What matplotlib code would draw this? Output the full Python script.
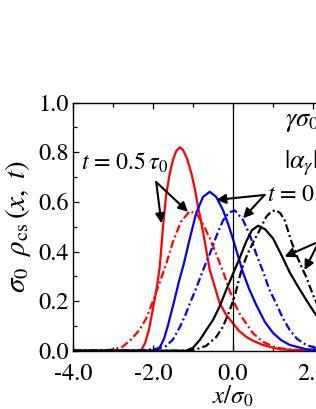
import matplotlib
matplotlib.use("Agg")
import matplotlib.pyplot as plt

plt.rcParams['font.family'] = ['STIXGeneral', 'DejaVu Serif']
plt.rcParams['mathtext.fontset'] = 'stix'

# ---- data ----
red_solid_x = [-4.0, -2.5, -2.3, -2.2, -2.1, -2.0, -1.9, -1.83, -1.75, -1.67, -1.58, -1.5, -1.42, -1.33,
               -1.25, -1.15, -1.04, -0.95, -0.875, -0.83, -0.7, -0.58, -0.45, -0.33, -0.17, 0.0, 0.15,
               0.33, 0.5, 0.75, 1.0, 1.17, 1.5, 2.0, 4.0]
red_solid_y = [0.0, 0.0, 0.0, 0.03, 0.085, 0.17, 0.26, 0.34, 0.5, 0.63, 0.715, 0.77, 0.805, 0.82,
               0.81, 0.775, 0.715, 0.65, 0.58, 0.547, 0.435, 0.325, 0.255, 0.19, 0.145, 0.11, 0.08,
               0.056, 0.04, 0.023, 0.012, 0.006, 0.002, 0.0, 0.0]

red_dash_x = [-4.0, -3.3, -3.0, -2.76, -2.55, -2.34, -2.17, -2.0, -1.8, -1.67, -1.5, -1.3, -1.08, -0.9,
              -0.75, -0.58, -0.42, -0.25, -0.1, 0.04, 0.18, 0.33, 0.5, 0.75, 1.0, 1.17, 1.5, 2.0, 4.0]
red_dash_y = [0.0, 0.0, 0.005, 0.016, 0.045, 0.083, 0.13, 0.2, 0.29, 0.35, 0.44, 0.52, 0.563, 0.55,
              0.51, 0.453, 0.39, 0.32, 0.25, 0.19, 0.145, 0.11, 0.07, 0.036, 0.017, 0.01, 0.004, 0.001, 0.0]

blue_solid_x = [-4.0, -2.2, -1.95, -1.82, -1.72, -1.63, -1.47, -1.35, -1.23, -1.09, -0.92, -0.75, -0.58,
                -0.42, -0.25, -0.12, 0.0, 0.12, 0.25, 0.4, 0.58, 0.8, 1.0, 1.2, 1.42, 1.83, 2.3, 4.0]
blue_solid_y = [0.0, 0.0, 0.0, 0.016, 0.05, 0.1, 0.2, 0.28, 0.35, 0.446, 0.555, 0.62, 0.641,
                0.62, 0.567, 0.51, 0.45, 0.385, 0.315, 0.25, 0.185, 0.115, 0.072, 0.043, 0.023, 0.006, 0.001, 0.0]

blue_dash_x = [-4.0, -2.6, -2.2, -1.9, -1.68, -1.5, -1.33, -1.2, -1.08, -0.9, -0.75, -0.58, -0.42, -0.25,
               -0.1, 0.05, 0.25, 0.42, 0.58, 0.75, 0.9, 1.08, 1.25, 1.42, 1.6, 1.83, 2.2, 4.0]
blue_dash_y = [0.0, 0.0, 0.003, 0.008, 0.018, 0.045, 0.095, 0.14, 0.19, 0.26, 0.325, 0.39, 0.46, 0.525,
               0.558, 0.565, 0.527, 0.467, 0.39, 0.32, 0.25, 0.19, 0.13, 0.083, 0.048, 0.023, 0.005, 0.0]

black_solid_x = [-4.0, -1.5, -1.17, -1.0, -0.83, -0.67, -0.5, -0.33, -0.17, 0.0, 0.17, 0.33, 0.47, 0.625,
                 0.8, 1.0, 1.21, 1.42, 1.62, 1.83, 2.07, 2.3, 2.6, 3.0, 3.5, 4.0]
black_solid_y = [0.0, 0.0, 0.0, 0.012, 0.043, 0.083, 0.124, 0.18, 0.245, 0.31, 0.375, 0.44, 0.485, 0.504,
                 0.49, 0.453, 0.386, 0.315, 0.26, 0.205, 0.145, 0.095, 0.048, 0.016, 0.003, 0.0]

black_dash_x = [-4.0, -1.5, -1.08, -0.83, -0.67, -0.42, -0.25, -0.08, 0.04, 0.21, 0.35, 0.5, 0.67, 0.83,
                0.95, 1.06, 1.18, 1.29, 1.46, 1.6, 1.75, 1.83, 2.0, 2.2, 2.5, 2.8, 3.2, 3.6, 4.0]
black_dash_y = [0.0, 0.0, 0.0, 0.01, 0.02, 0.055, 0.097, 0.164, 0.218, 0.325, 0.385, 0.436, 0.487, 0.54,
                0.56, 0.567, 0.555, 0.527, 0.44, 0.38, 0.325, 0.298, 0.225, 0.155, 0.075, 0.033, 0.01, 0.002, 0.0]

x_ticks = [-4.0, -2.0, 0.0, 2.0, 4.0]
x_ticklabels = ['-4.0', '-2.0', '0.0', '2.0', '4.0']
x_minor = [-3.0, -1.0, 1.0, 3.0]
y_ticks = [0.0, 0.2, 0.4, 0.6, 0.8, 1.0]
y_ticklabels = ['0.0', '0.2', '0.4', '0.6', '0.8', '1.0']
y_minor = [0.1, 0.3, 0.5, 0.7, 0.9]

label_red = r'$t$ = 0.5$\,\tau_0$'
label_blue = r'$t$ = 0.75$\,\tau_0$'
label_black = r'$t$ = 1.0$\,\tau_0$'
param_1 = r'$\gamma\sigma_0$ = 1.0'
param_2 = r'$|\alpha_\gamma|$ = 0.5'

# ---- figure ----
W, H = 316, 409
fig = plt.figure(figsize=(W / 100, H / 100), dpi=100)
ax = fig.add_axes([73 / W, (H - 350.7) / H, 320 / W, 248 / H])

lw = 1.6
dd = (0, (3.6, 1.4, 0.9, 1.4))
ax.plot(red_solid_x, red_solid_y, color='#ff0000', lw=lw)
ax.plot(red_dash_x, red_dash_y, color='#ff0000', lw=lw, ls=dd)
ax.plot(blue_solid_x, blue_solid_y, color='#0000ff', lw=lw)
ax.plot(blue_dash_x, blue_dash_y, color='#0000ff', lw=lw, ls=dd)
ax.plot(black_solid_x, black_solid_y, color='k', lw=lw)
ax.plot(black_dash_x, black_dash_y, color='k', lw=lw, ls=dd)
ax.axvline(0.0, color='k', lw=0.9)

ax.set_xlim(-4.0, 4.0)
ax.set_ylim(0.0, 1.0)
ax.set_xticks(x_ticks)
ax.set_xticklabels(x_ticklabels)
ax.set_xticks(x_minor, minor=True)
ax.set_yticks(y_ticks)
ax.set_yticklabels(y_ticklabels)
ax.set_yticks(y_minor, minor=True)
ax.tick_params(which='both', direction='in', top=True, right=True, labelsize=17.5, width=0.9)
ax.tick_params(which='major', length=4)
ax.tick_params(which='minor', length=3)
ax.tick_params(axis='x', which='major', pad=9)
ax.tick_params(axis='y', which='major', pad=3)
for s in ax.spines.values():
    s.set_linewidth(1.0)

ax.set_xlabel(r'$x/\sigma_0$', fontsize=18, labelpad=0)
ax.set_ylabel(r'$\sigma_0\;\;\rho_{\rm cs}\,(x,\;t)$', fontsize=21, labelpad=4)

aprops = dict(arrowstyle='-|>', color='k', lw=1.5, mutation_scale=14, shrinkA=0, shrinkB=0)

ax.text(-3.8, 0.757, label_red, fontsize=17.2, ha='left', va='center')
for tip in [(-1.79, 0.514), (-1.125, 0.56)]:
    ax.annotate('', xy=tip, xytext=(-1.92, 0.68), arrowprops=aprops)

ax.text(0.86, 0.628, label_blue, fontsize=17.2, ha='left', va='center')
for tip in [(-0.42, 0.608), (0.25, 0.534)]:
    ax.annotate('', xy=tip, xytext=(0.79, 0.628), arrowprops=aprops)

ax.text(2.25, 0.44, label_black, fontsize=17.2, ha='left', va='center')
for tip in [(1.29, 0.379), (1.79, 0.325)]:
    ax.annotate('', xy=tip, xytext=(2.15, 0.44), arrowprops=aprops)

ax.text(1.29, 0.93, param_1, fontsize=19, ha='left', va='center')
ax.text(1.27, 0.756, param_2, fontsize=19, ha='left', va='center')

fig.savefig('out.png', dpi=100)
